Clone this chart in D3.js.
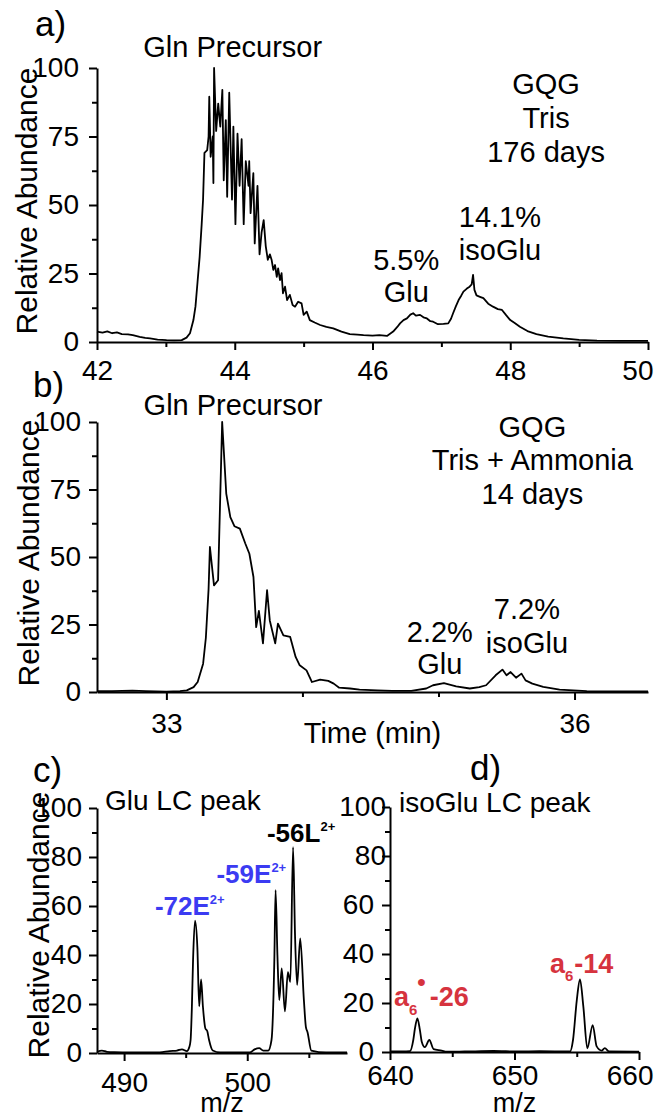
<!DOCTYPE html>
<html>
<head>
<meta charset="utf-8">
<script src="https://cdn.jsdelivr.net/npm/d3@7"></script>
<style>
  body { margin: 0; background: #fff; }
  svg { display: block; font-family: "Liberation Sans", Arial, sans-serif; }
</style>
</head>
<body>
<div id="chart"></div>
<script>
const width = 655;
const height = 1119;

// a) GQG, Tris, 176 days -- extracted ion chromatogram [time (min), relative abundance]
const traceTris = [
  [42.00, 3.8], [42.08, 3.4], [42.15, 3.9], [42.22, 3.2], [42.29, 3.5], [42.36, 2.9], [42.45, 2.8],
  [42.52, 2.5], [42.62, 1.9], [42.70, 1.5], [42.77, 1.3], [42.88, 0.9], [43.01, 0.7], [43.12, 0.6],
  [43.23, 0.7], [43.30, 1.6], [43.35, 3.2], [43.40, 8], [43.43, 13], [43.46, 22], [43.49, 31],
  [43.52, 43], [43.54, 52], [43.56, 69], [43.60, 70], [43.62, 75], [43.63, 89.5], [43.65, 67.6],
  [43.68, 75], [43.69, 58], [43.70, 100], [43.73, 77], [43.76, 87], [43.79, 78.6], [43.82, 92],
  [43.84, 59], [43.87, 81], [43.89, 53], [43.92, 91], [43.96, 52], [43.98, 78.6], [44.01, 43],
  [44.04, 76], [44.07, 57], [44.10, 74], [44.13, 43], [44.16, 66], [44.20, 57], [44.21, 66],
  [44.23, 47], [44.27, 61.6], [44.29, 36], [44.33, 57], [44.36, 32], [44.39, 40], [44.42, 44.5],
  [44.45, 35], [44.48, 30], [44.51, 32], [44.536, 29.9], [44.56, 26.3], [44.585, 28.1], [44.61, 23.8],
  [44.63, 26.9], [44.657, 22.6], [44.68, 25.1], [44.70, 17.8], [44.73, 20.2], [44.76, 15.3],
  [44.80, 17.2], [44.84, 13.5], [44.875, 12.9], [44.92, 14.7], [44.97, 14.1], [45.00, 9.9],
  [45.045, 11.1], [45.09, 8], [45.16, 7.1], [45.24, 6.2], [45.33, 5.5], [45.43, 5], [45.55, 3.8],
  [45.67, 2.9], [45.78, 2.7], [45.87, 2.5], [46.00, 2.3], [46.10, 2.5], [46.21, 2.2], [46.30, 3.8],
  [46.36, 5.5], [46.40, 6.8], [46.45, 8.0], [46.50, 8.6], [46.55, 10.0], [46.59, 10.5], [46.63, 9.6],
  [46.69, 9.9], [46.74, 9.0], [46.79, 8.6], [46.84, 7.6], [46.88, 7.4], [46.95, 6.5], [47.03, 6.6],
  [47.10, 6.8], [47.14, 8.5], [47.17, 10.5], [47.21, 13], [47.25, 15.3], [47.29, 17], [47.32, 18.4],
  [47.37, 19.5], [47.41, 20.2], [47.44, 21], [47.46, 24.5], [47.48, 19], [47.51, 17], [47.56, 16.5],
  [47.61, 16], [47.68, 14], [47.75, 12.9], [47.82, 12], [47.88, 11.7], [47.94, 9.8], [48.00, 8],
  [48.07, 6.8], [48.14, 5.6], [48.25, 4.0], [48.38, 2.9], [48.55, 2.0], [48.77, 1.3], [49.00, 0.8],
  [49.26, 0.5], [49.60, 0.4], [50.00, 0.4]
];

// b) GQG, Tris + Ammonia, 14 days
const traceAmmonia = [
  [32.49, 0.3], [32.60, 0.3], [32.75, 0.5], [32.85, 0.3], [33.00, 0.1], [33.10, 0.3], [33.15, 0.6],
  [33.20, 1.8], [33.23, 3.7], [33.27, 10.5], [33.29, 20], [33.31, 38], [33.32, 53.7], [33.35, 39.5],
  [33.38, 41.4], [33.41, 100], [33.44, 73.5], [33.47, 64.8], [33.50, 61.4], [33.54, 60.5], [33.58, 55],
  [33.61, 51.2], [33.64, 42.6], [33.66, 24], [33.68, 30], [33.71, 18], [33.74, 37.7], [33.76, 26.5],
  [33.80, 18], [33.82, 25.3], [33.86, 21], [33.91, 20.4], [33.95, 13], [33.98, 9.9], [34.03, 8],
  [34.07, 3.7], [34.13, 4.6], [34.19, 4.1], [34.23, 3.1], [34.27, 1.6], [34.35, 1.3], [34.42, 0.9],
  [34.55, 0.6], [34.66, 0.4], [34.80, 0.4], [34.91, 1.3], [34.96, 2.5], [35.04, 3.3], [35.13, 2.1],
  [35.23, 1.3], [35.30, 1.8], [35.35, 2.5], [35.42, 6.2], [35.47, 8.3], [35.50, 6.2], [35.53, 7.4],
  [35.57, 5.3], [35.61, 6.8], [35.64, 4.3], [35.69, 3.1], [35.77, 1.9], [35.89, 0.9], [36.09, 0.3],
  [36.30, 0.2], [36.54, 0.2]
];

// c) Glu LC peak MS/MS spectrum [m/z, relative abundance]
const spectrumGlu = [
  [487.8, 0.5], [488.2, 1], [488.6, 0.5], [489.2, 0.3], [490.5, 0.2], [492.0, 0.2], [492.9, 0.2],
  [493.7, 0.8], [494.3, 1], [494.7, 1.5], [495.1, 0.8], [495.3, 2.5], [495.4, 5.3], [495.5, 18],
  [495.6, 38], [495.76, 54], [495.95, 43], [496.1, 19], [496.25, 30], [496.4, 19], [496.6, 10],
  [496.75, 9], [496.9, 5.3], [497.2, 1], [497.8, 0.2], [500.2, 0.2], [500.6, 1.5], [500.97, 2],
  [501.3, 1], [501.7, 1], [501.97, 5.3], [502.2, 38], [502.3, 66.5], [502.45, 40], [502.6, 21.6],
  [502.8, 34.5], [503.06, 17], [503.3, 33], [503.5, 29], [503.72, 84], [503.88, 48], [504.05, 27.8],
  [504.3, 46.8], [504.6, 21.6], [504.76, 10.7], [504.9, 8.4], [505.2, 1], [506.4, 0.2], [508.1, 0.2]
];

// d) isoGlu LC peak MS/MS spectrum
const spectrumIsoGlu = [
  [640.0, 0.2], [641.0, 0.2], [641.6, 0.3], [641.87, 4.9], [642.0, 9.5], [642.2, 13.7], [642.4, 9],
  [642.55, 4.2], [642.8, 2], [643.16, 4.9], [643.5, 1.2], [644.15, 0.6], [644.55, 0.1], [646.0, 0.2],
  [648.3, 0.4], [650.3, 0.2], [652.0, 0.3], [654.46, 0.2], [654.7, 4.9], [655.0, 21], [655.26, 29.6],
  [655.53, 18.5], [655.85, 1.5], [656.28, 11], [656.6, 2.3], [657.0, 0.6], [657.25, 1.6], [657.6, 0.2],
  [660.0, 0.1]
];

// tick values
const ticksChromY = [0, 25, 50, 75, 100];
const minorChromY = [12.5, 37.5, 62.5, 87.5];
const ticksTrisX = [42, 44, 46, 48, 50];
const minorTrisX = [43, 45, 47, 49];
const ticksAmmX = [33, 36];
const minorAmmX = [34, 35];
const ticksSpecY = [0, 20, 40, 60, 80, 100];
const minorSpecY = [10, 30, 50, 70, 90];
const ticksGluX = [490, 500];
const minorGluX = [495, 505];
const ticksIsoX = [640, 650, 660];
const minorIsoX = [645, 655];

const blue = '#3b3bf2';
const red = '#d6333e';
const tickFont = 28;
const textFont = 29;

const svg = d3.select('#chart')
  .append('svg')
  .attr('width', width)
  .attr('height', height);

function styleAxis(sel) {
  sel.attr('font-family', null).attr('font-size', null);
  sel.selectAll('line, path').attr('stroke', '#000').attr('stroke-width', 2);
  sel.selectAll('text').attr('fill', '#000').style('font-size', tickFont + 'px');
}

function drawPanel(p) {
  const x = d3.scaleLinear().domain(p.xDomain).range(p.xRange);
  const y = d3.scaleLinear().domain([0, 100]).range(p.yRange);
  const g = svg.append('g');

  // minor ticks
  g.append('g')
    .attr('transform', `translate(0,${p.yRange[0]})`)
    .call(d3.axisBottom(x).tickValues(p.xMinor).tickSize(5).tickSizeOuter(0).tickFormat(''))
    .call(a => a.select('.domain').remove())
    .call(styleAxis);
  g.append('g')
    .attr('transform', `translate(${p.xRange[0]},0)`)
    .call(d3.axisLeft(y).tickValues(p.yMinor).tickSize(5).tickSizeOuter(0).tickFormat(''))
    .call(a => a.select('.domain').remove())
    .call(styleAxis);

  // major ticks + axis lines
  const xAxis = g.append('g')
    .attr('transform', `translate(0,${p.yRange[0]})`)
    .call(d3.axisBottom(x).tickValues(p.xTicks).tickSize(8).tickSizeOuter(0)
      .tickPadding(p.xPad).tickFormat(d3.format('d')))
    .call(styleAxis);
  const yAxis = g.append('g')
    .attr('transform', `translate(${p.xRange[0]},0)`)
    .call(d3.axisLeft(y).tickValues(p.yTicks).tickSize(8).tickSizeOuter(0)
      .tickPadding(p.yPad).tickFormat(d3.format('d')))
    .call(styleAxis);

  // last x label sits inside the picture edge
  if (p.lastShift) {
    xAxis.selectAll('.tick text')
      .filter(v => v === p.xTicks[p.xTicks.length - 1])
      .attr('text-anchor', 'end')
      .attr('x', p.lastShift);
  }
  // in panel d the two top labels sit closer to the axis
  if (p.topShift) {
    yAxis.selectAll('.tick text')
      .filter(v => v >= 80)
      .attr('x', -(8 + p.yPad) + p.topShift);
  }

  const line = d3.line()
    .x(d => x(d[0]))
    .y(d => y(d[1]))
    .curve(p.curve || d3.curveLinear);

  g.append('path')
    .datum(p.data)
    .attr('d', line)
    .attr('fill', 'none')
    .attr('stroke', '#000')
    .attr('stroke-width', 1.8)
    .attr('stroke-linejoin', 'round');

  return { x, y, g };
}

function addText(parent, px, py, str, o = {}) {
  return parent.append('text')
    .attr('x', px)
    .attr('y', py)
    .attr('text-anchor', o.anchor || 'middle')
    .attr('fill', o.fill || '#000')
    .style('font-size', (o.size || textFont) + 'px')
    .style('font-weight', o.weight || 'normal')
    .text(str);
}

function yTitle(cx, cy) {
  svg.append('text')
    .attr('transform', `translate(${cx},${cy}) rotate(-90)`)
    .attr('text-anchor', 'middle')
    .style('font-size', '30px')
    .text('Relative Abundance');
}

// ---------- a) ----------
const a = drawPanel({
  data: traceTris,
  xDomain: [42, 50], xRange: [97, 648], yRange: [342, 68],
  xTicks: ticksTrisX, xMinor: minorTrisX, yTicks: ticksChromY, yMinor: minorChromY,
  xPad: 10, yPad: 10, lastShift: 5
});
addText(svg, 35, 36, 'a)', { anchor: 'start', size: 35 });
yTitle(37, 201);
addText(a.g, a.x(43.97), a.y(104), 'Gln Precursor');
addText(a.g, a.x(48.52), a.y(90.5), 'GQG');
addText(a.g, a.x(48.52), a.y(78.2), 'Tris');
addText(a.g, a.x(48.52), a.y(65.8), '176 days');
addText(a.g, a.x(47.85), a.y(42), '14.1%');
addText(a.g, a.x(47.85), a.y(30), 'isoGlu');
addText(a.g, a.x(46.49), a.y(26.3), '5.5%');
addText(a.g, a.x(46.49), a.y(14.7), 'Glu');

// ---------- b) ----------
const b = drawPanel({
  data: traceAmmonia,
  xDomain: [32.49, 36.54], xRange: [97, 648], yRange: [692, 422],
  xTicks: ticksAmmX, xMinor: minorAmmX, yTicks: ticksChromY, yMinor: minorChromY,
  xPad: 13, yPad: 8
});
addText(svg, 33, 397, 'b)', { anchor: 'start', size: 35 });
yTitle(39, 553);
addText(svg, (97 + 648) / 2, 743, 'Time (min)');
addText(b.g, b.x(33.49), b.y(102.5), 'Gln Precursor');
addText(b.g, b.x(35.69), b.y(94.4), 'GQG');
addText(b.g, b.x(35.69), b.y(82.1), 'Tris + Ammonia');
addText(b.g, b.x(35.69), b.y(69.5), '14 days');
addText(b.g, b.x(35.65), b.y(27.2), '7.2%');
addText(b.g, b.x(35.65), b.y(14.4), 'isoGlu');
addText(b.g, b.x(35.01), b.y(18.5), '2.2%');
addText(b.g, b.x(35.01), b.y(6.8), 'Glu');

// ---------- c) ----------
const c = drawPanel({
  data: spectrumGlu,
  xDomain: [487.8, 508.1], xRange: [97, 347], yRange: [1053, 808],
  xTicks: ticksGluX, xMinor: minorGluX, yTicks: ticksSpecY, yMinor: minorSpecY,
  xPad: 11, yPad: 7, curve: d3.curveMonotoneX
});
addText(svg, 33, 782, 'c)', { anchor: 'start', size: 35 });
yTitle(49, 925);
addText(svg, (97 + 347) / 2, 1112, 'm/z', { size: 27 });
addText(c.g, c.x(488.45), c.y(99.2), 'Glu LC peak', { anchor: 'start', size: 28 });

function ionLabel(panel, mz, ab, main, sup, fill) {
  const t = addText(panel.g, panel.x(mz), panel.y(ab), '', { anchor: 'start', weight: 'bold', fill: fill, size: 26 });
  t.append('tspan').text(main);
  t.append('tspan').attr('dy', -11).style('font-size', '13px').text(sup);
}
ionLabel(c, 501.6, 86, '-56L', '2+', '#000');
ionLabel(c, 497.5, 69.3, '-59E', '2+', blue);
ionLabel(c, 492.5, 56.3, '-72E', '2+', blue);

// ---------- d) ----------
const d = drawPanel({
  data: spectrumIsoGlu,
  xDomain: [640, 660], xRange: [390, 639], yRange: [1052, 807],
  xTicks: ticksIsoX, xMinor: minorIsoX, yTicks: ticksSpecY, yMinor: minorSpecY,
  xPad: 5, yPad: 8, curve: d3.curveMonotoneX, lastShift: 14, topShift: 12
});
addText(svg, 470, 780, 'd)', { anchor: 'start', size: 35 });
addText(svg, (390 + 639) / 2, 1112, 'm/z', { size: 27 });
addText(d.g, d.x(640.72), d.y(98), 'isoGlu LC peak', { anchor: 'start', size: 28 });

// a6(radical)-26
const r26 = addText(d.g, d.x(640.32), d.y(18.9), '', { anchor: 'start', weight: 'bold', fill: red, size: 27 });
r26.append('tspan').text('a');
r26.append('tspan').attr('dy', 9).style('font-size', '15px').text('6');
r26.append('tspan').attr('dy', -25).attr('dx', 0).style('font-size', '24px').text('\u2022');
r26.append('tspan').attr('dy', 16).attr('dx', 4).text('-26');

// a6-14
const r14 = addText(d.g, d.x(652.85), d.y(32.1), '', { anchor: 'start', weight: 'bold', fill: red, size: 27 });
r14.append('tspan').text('a');
r14.append('tspan').attr('dy', 8).style('font-size', '15px').text('6');
r14.append('tspan').attr('dy', -8).attr('dx', 1).text('-14');
</script>
</body>
</html>
